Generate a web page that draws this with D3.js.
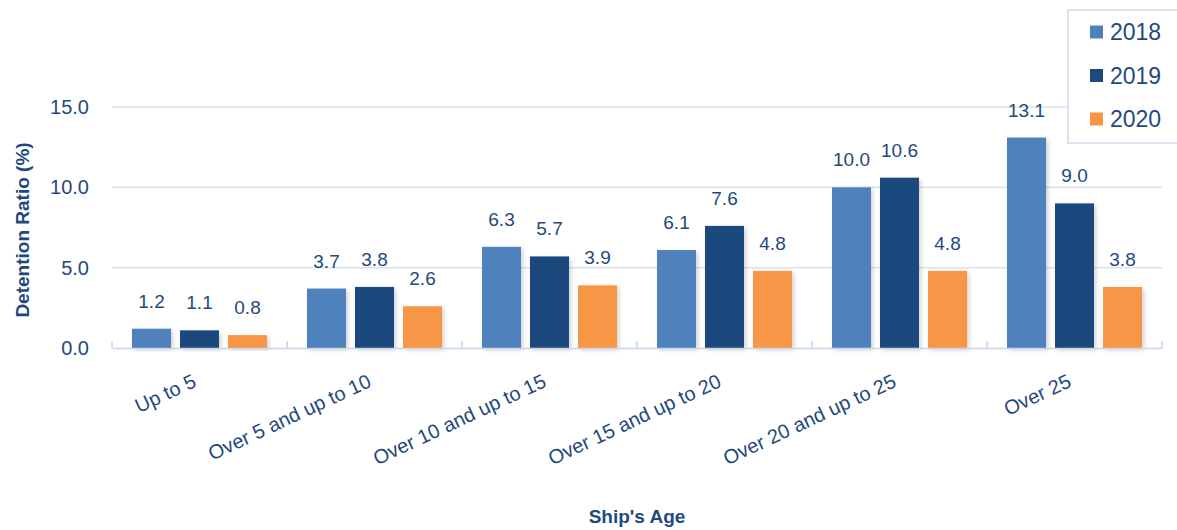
<!DOCTYPE html>
<html>
<head>
<meta charset="utf-8">
<script src="https://cdn.jsdelivr.net/npm/d3@7"></script>
<style>
  html, body { margin: 0; padding: 0; background: #ffffff; }
  svg { display: block; font-family: "Liberation Sans", Arial, sans-serif; }
</style>
</head>
<body>
<svg id="chart" width="1177" height="530"></svg>
<script>
const categories = ["Up to 5", "Over 5 and up to 10", "Over 10 and up to 15", "Over 15 and up to 20", "Over 20 and up to 25", "Over 25"];
const seriesNames = ["2018", "2019", "2020"];
const values2018 = [1.2, 3.7, 6.3, 6.1, 10.0, 13.1];
const values2019 = [1.1, 3.8, 5.7, 7.6, 10.6, 9.0];
const values2020 = [0.8, 2.6, 3.9, 4.8, 4.8, 3.8];
const yTicks = [0, 5, 10, 15];
const colors = ["#4f81bd", "#1f497d", "#f79646"];

const series = [values2018, values2019, values2020];
const textColor = "#1f497d";

const svg = d3.select("#chart");
const defs = svg.append("defs");
const f = defs.append("filter").attr("id", "shadow").attr("x", "-20%").attr("y", "-20%").attr("width", "140%").attr("height", "140%");
f.append("feDropShadow").attr("dx", 2).attr("dy", 2).attr("stdDeviation", 2).attr("flood-color", "#000").attr("flood-opacity", 0.18);

const x0 = d3.scaleBand().domain(categories).range([112, 1162]).paddingInner(0).paddingOuter(0);
const x1 = d3.scaleBand().domain(seriesNames).range([0, x0.bandwidth()]).paddingInner(0.1875).paddingOuter(0.4167);
const y = d3.scaleLinear().domain([0, 15]).range([348, 107]);

// gridlines
svg.append("g").selectAll("line").data(yTicks.filter(d => d > 0)).join("line")
  .attr("x1", 112).attr("x2", 1162)
  .attr("y1", d => y(d)).attr("y2", d => y(d))
  .attr("stroke", "#d9e2ee").attr("stroke-width", 1.5);

// y tick labels via axis
const yAxis = svg.append("g").attr("transform", "translate(112,0)")
  .call(d3.axisLeft(y).tickValues(yTicks).tickFormat(d3.format(".1f")).tickSize(0).tickPadding(23));
yAxis.select(".domain").remove();
yAxis.selectAll("text").attr("fill", textColor).attr("font-size", 20).attr("font-family", "Liberation Sans, Arial, sans-serif");

// bars
const groups = svg.append("g").selectAll("g").data(categories).join("g")
  .attr("transform", d => `translate(${x0(d)},0)`);
groups.selectAll("rect").data((c, i) => seriesNames.map((s, j) => ({ s, j, v: series[j][i] }))).join("rect")
  .attr("x", d => x1(d.s)).attr("width", x1.bandwidth())
  .attr("y", d => y(d.v)).attr("height", d => y(0) - y(d.v))
  .attr("fill", d => colors[d.j])
  .attr("filter", "url(#shadow)");
groups.selectAll("text").data((c, i) => seriesNames.map((s, j) => ({ s, j, v: series[j][i] }))).join("text")
  .attr("x", d => x1(d.s) + x1.bandwidth() / 2).attr("y", d => y(d.v) - 21)
  .attr("text-anchor", "middle").attr("fill", textColor).attr("font-size", 19)
  .text(d => d3.format(".1f")(d.v));

// x axis
const xAxis = svg.append("g").attr("transform", `translate(0,${y(0)})`)
  .call(d3.axisBottom(x0).tickSize(0).tickFormat(""));
xAxis.select(".domain").attr("stroke", "#c6d6ea").attr("stroke-width", 1.5);
xAxis.selectAll(".tick").remove();
const boundaries = categories.map(c => x0(c)).concat([x0.range()[1]]);
xAxis.selectAll("line.b").data(boundaries).join("line").attr("class", "b")
  .attr("x1", d => d).attr("x2", d => d).attr("y1", 0).attr("y2", -7)
  .attr("stroke", "#c6d6ea").attr("stroke-width", 1.5);

// x labels
svg.append("g").selectAll("text").data(categories).join("text")
  .attr("transform", d => `translate(${x0(d) + x0.bandwidth() / 2 - 2},386) rotate(-25)`)
  .attr("text-anchor", "end").attr("fill", textColor).attr("font-size", 20)
  .text(d => d);

// axis titles
svg.append("text").attr("transform", "translate(29,230) rotate(-90)")
  .attr("text-anchor", "middle").attr("fill", textColor).attr("font-size", 19).attr("font-weight", "bold")
  .text("Detention Ratio (%)");
svg.append("text").attr("x", 637).attr("y", 523)
  .attr("text-anchor", "middle").attr("fill", textColor).attr("font-size", 19).attr("font-weight", "bold")
  .text("Ship's Age");

// legend
const lg = svg.append("g");
lg.append("rect").attr("x", 1068).attr("y", 10).attr("width", 130).attr("height", 133)
  .attr("fill", "#ffffff").attr("stroke", "#d9e4f1").attr("stroke-width", 2);
const items = lg.selectAll("g").data(seriesNames).join("g")
  .attr("transform", (d, i) => `translate(1090,${32 + i * 43.5})`);
items.append("rect").attr("x", 0).attr("y", -6.5).attr("width", 13).attr("height", 13).attr("fill", (d, i) => colors[i]);
items.append("text").attr("x", 20).attr("y", 8).attr("fill", textColor).attr("font-size", 23).text(d => d);
</script>
</body>
</html>
